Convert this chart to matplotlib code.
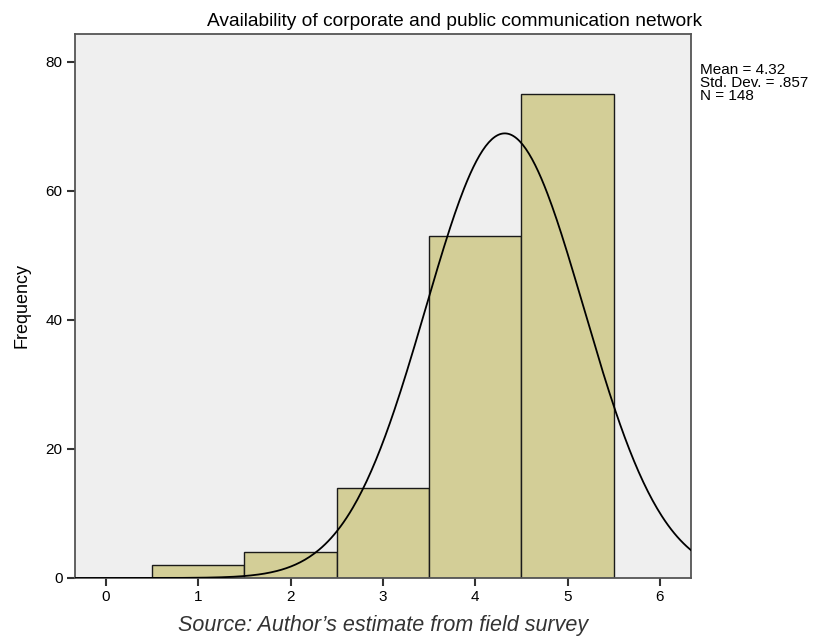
import numpy as np
import matplotlib
matplotlib.use("Agg")
import matplotlib.pyplot as plt

plt.rcParams['font.family'] = ['Liberation Sans', 'DejaVu Sans']

# histogram of ratings
bins = [0, 1, 2, 3, 4, 5]
counts = [0, 2, 4, 14, 53, 75]
mean, sd, n = 4.32, 0.857, 148

fig = plt.figure(figsize=(8.17, 6.41), dpi=100)
ax = fig.add_axes([0.0918, 0.0983, 0.7540, 0.8487])
ax.set_facecolor('#efefef')

ax.bar(bins, counts, width=1.0, color='#d3ce97', edgecolor='#1a1a1a', linewidth=1.0, zorder=2)

# fitted normal curve
xs = np.linspace(-0.34, 6.34, 400)
ys = n * 1.0 / (sd * np.sqrt(2 * np.pi)) * np.exp(-0.5 * ((xs - mean) / sd) ** 2)
ax.plot(xs, ys, color='black', linewidth=1.3, zorder=3)

ax.set_xlim(-0.336, 6.338)
ax.set_ylim(0, 84.3)
ax.set_xticks(range(0, 7))
ax.set_yticks([0, 20, 40, 60, 80])
ax.tick_params(direction='out', length=6, width=1.5, color='#333333', labelsize=11, pad=3)
for s in ax.spines.values():
    s.set_color('#555555')
    s.set_linewidth(1.3)

ax.set_ylabel('Frequency', fontsize=13, labelpad=11)

fig.text(455 / 817, 1 - 21 / 641, 'Availability of corporate and public communication network',
         ha='center', va='center', fontsize=13.8)
fig.text(700 / 817, 1 - 83 / 641, 'Mean = 4.32\nStd. Dev. = .857\nN = 148',
         ha='left', va='center', fontsize=11, linespacing=0.88)
fig.text(383 / 817, 1 - 626 / 641, 'Source: Author\u2019s estimate from field survey',
         ha='center', va='center', fontsize=15.5, style='italic', color='#333333')

fig.savefig('out.png', dpi=100)
